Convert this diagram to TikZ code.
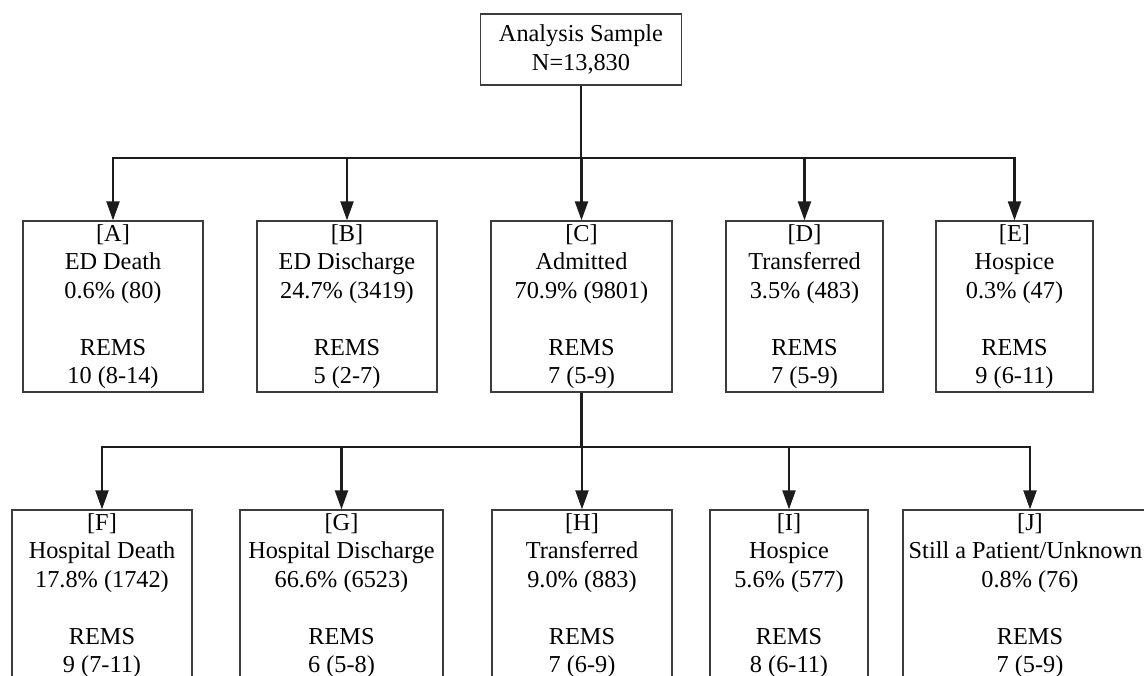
\documentclass[tikz,border=0pt]{standalone}
\usepackage{fontspec}
\setmainfont{Liberation Serif}
\usetikzlibrary{arrows.meta}
\definecolor{boxgray}{HTML}{3C3C3C}
\definecolor{linegray}{HTML}{1C1C1C}
\begin{document}
\begin{tikzpicture}[x=1pt,y=-1pt,
  box/.style={draw=boxgray,line width=1.3pt,align=center,inner sep=0pt,
    font=\fontsize{24.3}{28.5}\selectfont,minimum height=171pt},
  conn/.style={draw=linegray,line width=2.2pt,-{Triangle[length=19pt,width=13pt]}},
  trunk/.style={draw=linegray,line width=3.3pt}]
\clip (0,0) rectangle (1144,676);
\node[box,minimum width=201pt,minimum height=71pt] (top) at (581,49.5) {Analysis Sample\\N=13,830};
\node[box,minimum width=180pt] (a) at (113,306.5) {[A]\\ED Death\\0.6\% (80)\\[28.5pt]REMS\\10 (8-14)};
\node[box,minimum width=180pt] (b) at (347,306.5) {[B]\\ED Discharge\\24.7\% (3419)\\[28.5pt]REMS\\5 (2-7)};
\node[box,minimum width=181pt] (c) at (581.5,306.5) {[C]\\Admitted\\70.9\% (9801)\\[28.5pt]REMS\\7 (5-9)};
\node[box,minimum width=157pt] (d) at (804.5,306.5) {[D]\\Transferred\\3.5\% (483)\\[28.5pt]REMS\\7 (5-9)};
\node[box,minimum width=157pt] (e) at (1014.5,306.5) {[E]\\Hospice\\0.3\% (47)\\[28.5pt]REMS\\9 (6-11)};
\node[box,minimum width=180pt] (f) at (102,595.5) {[F]\\Hospital Death\\17.8\% (1742)\\[28.5pt]REMS\\9 (7-11)};
\node[box,minimum width=203pt] (g) at (341.5,595.5) {[G]\\Hospital Discharge\\66.6\% (6523)\\[28.5pt]REMS\\6 (5-8)};
\node[box,minimum width=180pt] (h) at (582,595.5) {[H]\\Transferred\\9.0\% (883)\\[28.5pt]REMS\\7 (6-9)};
\node[box,minimum width=158pt] (i) at (789,595.5) {[I]\\Hospice\\5.6\% (577)\\[28.5pt]REMS\\8 (6-11)};
\node[box,minimum width=254pt] (j) at (1030,595.5) {[J]\\\hspace*{-9pt}Still a Patient/Unknown\\0.8\% (76)\\[28.5pt]REMS\\7 (5-9)};
\coordinate (bar1) at (0,158);
\coordinate (bar2) at (0,447);
\foreach \n in {a,b,c,d,e}
  \draw[conn] (top.south) |- (bar1 -| \n.north) -- (\n.north);
\draw[trunk] (c.south) -- (c.south |- bar2);
\foreach \n in {f,g,h,i,j}
  \draw[conn] (c.south) |- (bar2 -| \n.north) -- (\n.north);
\end{tikzpicture}
\end{document}
